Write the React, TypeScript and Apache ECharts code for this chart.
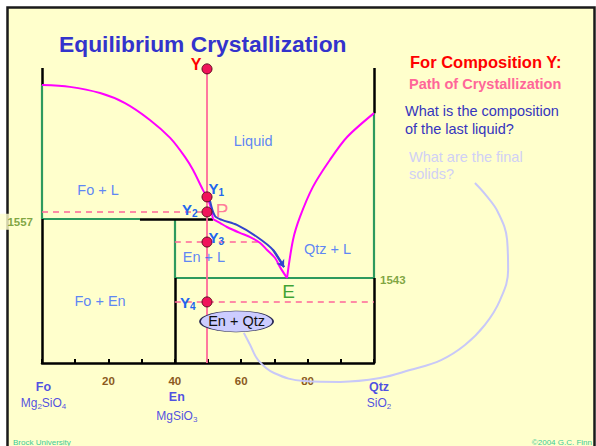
import React, { useEffect, useRef } from "react";
import * as echarts from "echarts";

const FONT = '"Liberation Sans", Arial, Helvetica, sans-serif';

// x axis tick labels
const xTickLabels = [20, 40, 60, 80];

// temperature labels (schematic T scale 0..100)
const tempLabels = ["1557", "1543"];
const tempX = [0, 100];
const tempY = [48.8, 28.8];

// liquidus curves
const liquidusFo = [
  [0, 94.2], [8.4, 93.6], [17.5, 91.5], [25, 88.1], [32.5, 82.4], [38.6, 76.3],
  [43.1, 69.8], [45.5, 65.4], [48.5, 58.6], [49.7, 56.3], [50.6, 53.6], [51.5, 48.8],
];
const liquidusEn = [
  [51.5, 48.8], [53.6, 47.5], [55.7, 46.1], [59.6, 44.1], [62.7, 42.7], [65.7, 40.7],
  [67.8, 38.3], [70.2, 35.6], [71.7, 32.5], [73.8, 28.8],
];
const liquidusQtz = [
  [73.8, 28.8], [75.6, 41.7], [77.7, 49.5], [81.6, 59.7], [86.7, 68.8], [91.9, 76.6], [100, 84.7],
];

// crystallization path of liquid
const liquidPath = [
  [50.6, 55.0], [52.1, 49.8], [54.2, 48.5], [58.7, 46.8], [64.8, 42.7], [69.6, 38.3], [72.9, 32.5],
];

// phase boundaries
const greenBoundaries = [
  [[0, 94.2], [0, 48.8]],
  [[100, 84.7], [100, 28.8]],
  [[0, 48.8], [29.5, 48.8]],
  [[40, 48.8], [40, 28.8]],
  [[40, 28.8], [100, 28.8]],
];
const blackBoundaries = [
  [[0, 100], [0, 94.2]],
  [[0, 48.8], [0, 0]],
  [[100, 100], [100, 84.7]],
  [[100, 28.8], [100, 0]],
  [[40, 28.8], [40, 0]],
  [[29.5, 48.8], [51.5, 48.8]],
];
const isotherms = [
  [[0, 51.2], [49.7, 51.2]],
  [[40, 41.0], [65.7, 41.0]],
  [[40, 20.7], [100, 20.7]],
];

// bulk composition Y and its stages
const yComposition = 49.7;
const stageNames = ["Y", "Y1", "Y2", "Y3", "Y4"];
const stageTemps = [99.7, 56.3, 51.2, 41.0, 20.7];

// field labels
const fieldNames = ["Liquid", "Fo + L", "En + L", "Qtz + L", "Fo + En"];
const fieldX = [63.6, 16.9, 48.8, 86.0, 17.5];
const fieldY = [75.3, 58.6, 36.1, 38.6, 21.0];

const ellipseName = "En + Qtz";
const ellipseX = 58.6;
const ellipseY = 14.1;

// end-members
const endmemberNames = ["Fo", "En", "Qtz"];
const endmemberFormulas = ["Mg{s|2}SiO{s|4}", "MgSiO{s|3}", "SiO{s|2}"];
const endmemberX = [0, 40, 100];

// invariant points
const pointNames = ["P", "E"];
const pointX = [51.5, 73.8];
const pointY = [48.8, 28.8];

// callout stroke from the question to the En + Qtz field (same composition scale, extended)
const calloutPath = [
  [60.8, 10.2], [62.7, 6.1], [65.1, 1.0], [69.9, -3.4], [78.9, -6.1], [89.8, -6.4],
  [101.8, -5.1], [110.8, -2.4], [120.2, 1.0], [127.4, 6.1], [133.4, 12.9], [138.0, 21.4],
  [140.4, 31.5], [140.1, 41.7], [137.3, 51.2], [133.7, 56.9], [130.4, 61.0],
];

const BLUE = "#3366FF";
const YBLUE = "#2266EE";

export default function App() {
  const ref = useRef<HTMLDivElement>(null);
  useEffect(() => {
    if (!ref.current) return;
    const chart = echarts.init(ref.current, null, { renderer: "svg" });

    const lineSeries = (data: number[][], color: string, width: number, extra: any = {}) => ({
      type: "line",
      data,
      symbol: "none",
      showSymbol: false,
      lineStyle: { color, width },
      z: 3,
      ...extra,
    });

    const stageLabel = (i: number) => {
      const name = stageNames[i];
      if (i === 0) {
        return {
          show: true,
          position: [0, 1],
          align: "right",
          verticalAlign: "middle",
          formatter: name,
          color: "#FF0000",
          fontWeight: "bold",
          fontSize: 16,
          fontFamily: FONT,
        };
      }
      const right = i === 1 || i === 3;
      const pos = i === 1 ? [7, -3] : i === 2 ? [-4, 3] : i === 3 ? [7, 1] : [-6, 6];
      return {
        show: true,
        position: pos,
        align: right ? "left" : "right",
        verticalAlign: "middle",
        formatter: "{y|Y}{s|" + name.slice(1) + "}",
        rich: {
          y: { fontSize: 15, fontWeight: "bold", color: YBLUE, fontFamily: FONT },
          s: { fontSize: 10, fontWeight: "bold", color: YBLUE, fontFamily: FONT, padding: [8, 0, 0, 0] },
        },
      };
    };

    const endmemberLabel = (i: number) => {
      const lh = i === 1 ? 18.7 : 16;
      const pos = i === 0 ? [1.5, 31.7] : i === 1 ? [2, 43.3] : [5, 32];
      return {
        show: true,
        position: pos,
        align: "center",
        verticalAlign: "middle",
        formatter: "{b|" + endmemberNames[i] + "}\n{n|" + endmemberFormulas[i].replace(/\{s\|(\d)\}/g, "}{s|$1}{n|") + "}",
        rich: {
          b: { fontSize: 12.5, fontWeight: "bold", color: "#1E22E6", fontFamily: FONT, lineHeight: lh, align: "center" },
          n: { fontSize: 12, color: "#1E22E6", fontFamily: FONT, lineHeight: lh },
          s: { fontSize: 8, color: "#1E22E6", fontFamily: FONT, lineHeight: lh, padding: [7, 0, 0, 0] },
        },
      };
    };

    const option: any = {
      animation: false,
      backgroundColor: "#ffffff",
      grid: [
        { left: 42, top: 68, width: 332, height: 295 },
        // annotation grid: same scale as main grid, extended to the right
        { left: 42, top: 68, width: 332 * 1.6, height: 295 },
      ],
      xAxis: [
        {
          type: "value",
          gridIndex: 0,
          min: 0,
          max: 100,
          interval: 10,
          axisLine: { lineStyle: { color: "#000", width: 2.5 } },
          axisTick: { inside: true, length: 4, lineStyle: { color: "#000", width: 2 } },
          splitLine: { show: false },
          axisLabel: {
            margin: 12,
            color: "#8B5A1E",
            fontWeight: "bold",
            fontSize: 11.5,
            fontFamily: FONT,
            formatter: (v: number) => (xTickLabels.includes(v) ? String(v) : ""),
          },
        },
        { type: "value", gridIndex: 1, min: 0, max: 160, show: false },
      ],
      yAxis: [
        { type: "value", gridIndex: 0, min: 0, max: 100, show: false },
        { type: "value", gridIndex: 1, min: 0, max: 100, show: false },
      ],
      graphic: [
        {
          type: "rect",
          z: -10,
          shape: { x: 7.5, y: 7.5, width: 587, height: 470 },
          style: { fill: "#FFFFCC", stroke: "#1a1a1a", lineWidth: 2.5 },
        },
        {
          type: "text",
          x: 59,
          y: 43.5,
          style: { text: "Equilibrium Crystallization", font: "bold 22.8px " + FONT, fill: "#3333CC", align: "left", verticalAlign: "middle" },
        },
        {
          type: "text",
          x: 410,
          y: 62,
          style: { text: "For Composition Y:", font: "bold 16.5px " + FONT, fill: "#FF0000", align: "left", verticalAlign: "middle" },
        },
        {
          type: "text",
          x: 409,
          y: 84,
          style: { text: "Path of Crystallization", font: "bold 14.5px " + FONT, fill: "#FF6699", align: "left", verticalAlign: "middle" },
        },
        {
          type: "text",
          x: 405,
          y: 111,
          style: { text: "What is the composition", font: "14.5px " + FONT, fill: "#3535BE", align: "left", verticalAlign: "middle" },
        },
        {
          type: "text",
          x: 405,
          y: 129,
          style: { text: "of the last liquid?", font: "14.5px " + FONT, fill: "#3535BE", align: "left", verticalAlign: "middle" },
        },
        {
          type: "text",
          x: 409,
          y: 157,
          style: { text: "What are the final", font: "14.5px " + FONT, fill: "#D0D0F6", align: "left", verticalAlign: "middle" },
        },
        {
          type: "text",
          x: 409,
          y: 174,
          style: { text: "solids?", font: "14.5px " + FONT, fill: "#D0D0F6", align: "left", verticalAlign: "middle" },
        },
        {
          type: "text",
          x: 13,
          y: 442,
          style: { text: "Brock University", font: "8px " + FONT, fill: "#3CCB98", align: "left", verticalAlign: "middle" },
        },
        {
          type: "text",
          x: 592,
          y: 442,
          style: { text: "\u00A92004 G.C. Finn", font: "8px " + FONT, fill: "#3CCB98", align: "right", verticalAlign: "middle" },
        },
      ],
      series: [
        {
          type: "lines",
          coordinateSystem: "cartesian2d",
          data: greenBoundaries.map((c) => ({ coords: c })),
          lineStyle: { color: "#2E9A5E", width: 2.2, opacity: 1 },
          z: 2,
        },
        {
          type: "lines",
          coordinateSystem: "cartesian2d",
          data: blackBoundaries.map((c) => ({ coords: c })),
          lineStyle: { color: "#000000", width: 2.5, opacity: 1 },
          z: 2,
        },
        {
          type: "lines",
          coordinateSystem: "cartesian2d",
          data: isotherms.map((c) => ({ coords: c })),
          lineStyle: { color: "#FF6699", width: 1.6, type: [6, 5], opacity: 1 },
          z: 2,
        },
        lineSeries([[yComposition, 0], [yComposition, 99.7]], "#FF6A9A", 1.8, { z: 3 }),
        lineSeries(liquidusFo, "#FF00FF", 2, { smooth: 0.3 }),
        lineSeries(liquidusEn, "#FF00FF", 2, { smooth: 0.3 }),
        lineSeries(liquidusQtz, "#FF00FF", 2, { smooth: 0.3 }),
        lineSeries(liquidPath, "#3344CC", 2, { smooth: 0.3, z: 4 }),
        {
          type: "lines",
          coordinateSystem: "cartesian2d",
          data: [{ coords: liquidPath.slice(-2) }],
          symbol: ["none", "arrow"],
          symbolSize: 7,
          lineStyle: { color: "#3344CC", width: 2, opacity: 1 },
          z: 4,
        },
        lineSeries(calloutPath, "#C8C8F8", 2, { smooth: 0.4, clip: false, z: 3, xAxisIndex: 1, yAxisIndex: 1 }),
        {
          type: "scatter",
          data: stageTemps.map((t, i) => ({ value: [yComposition, t], label: stageLabel(i) })),
          symbol: "circle",
          symbolSize: 10,
          itemStyle: { color: "#F0145A", borderColor: "#5A0A1E", borderWidth: 1, opacity: 1 },
          z: 6,
        },
        {
          type: "scatter",
          data: fieldNames.map((n, i) => ({ value: [fieldX[i], fieldY[i]], name: n })),
          symbolSize: 0,
          label: {
            show: true,
            position: [0, 0],
            align: "center",
            verticalAlign: "middle",
            formatter: "{b}",
            color: BLUE,
            fontSize: 14.5,
            fontFamily: FONT,
          },
          z: 5,
        },
        {
          type: "scatter",
          data: tempLabels.map((n, i) => ({
            value: [tempX[i], tempY[i]],
            name: n,
            label: i === 0
              ? { position: [-8, 2.7], align: "right", backgroundColor: "#FFFFCC", padding: [2, 1, 2, 10] }
              : { position: [6, 2], align: "left" },
          })),
          symbolSize: 0,
          label: {
            show: true,
            verticalAlign: "middle",
            formatter: "{b}",
            color: "#5E8E1C",
            fontWeight: "bold",
            fontSize: 11.5,
            fontFamily: FONT,
          },
          clip: false,
          z: 5,
        },
        {
          type: "scatter",
          data: endmemberNames.map((n, i) => ({ value: [endmemberX[i], 0], name: n, label: endmemberLabel(i) })),
          symbolSize: 0,
          clip: false,
          z: 5,
        },
        {
          type: "scatter",
          data: pointNames.map((n, i) => ({
            value: [pointX[i], pointY[i]],
            name: n,
            label: i === 0
              ? { position: [9, -9], color: "#FF5A8C" }
              : { position: [1.5, 13], color: "#0A8A0A" },
          })),
          symbolSize: 0,
          label: {
            show: true,
            align: "center",
            verticalAlign: "middle",
            formatter: "{b}",
            fontSize: 19,
            fontFamily: FONT,
          },
          z: 5,
        },
        {
          type: "scatter",
          data: [{ value: [ellipseX, ellipseY], name: ellipseName }],
          symbol: "circle",
          symbolSize: [73, 21],
          itemStyle: { color: "#CCCCFF", borderColor: "#2A2A55", borderWidth: 1, opacity: 1 },
          label: {
            show: true,
            position: "inside",
            formatter: "{b}",
            color: "#111111",
            fontSize: 14.5,
            fontFamily: FONT,
          },
          z: 7,
        },
      ],
    };

    chart.setOption(option);
    return () => chart.dispose();
  }, []);

  return (
    <div
      ref={ref}
      style={{ position: "absolute", left: 0, top: 0, width: 596, height: 446 }}
    />
  );
}
